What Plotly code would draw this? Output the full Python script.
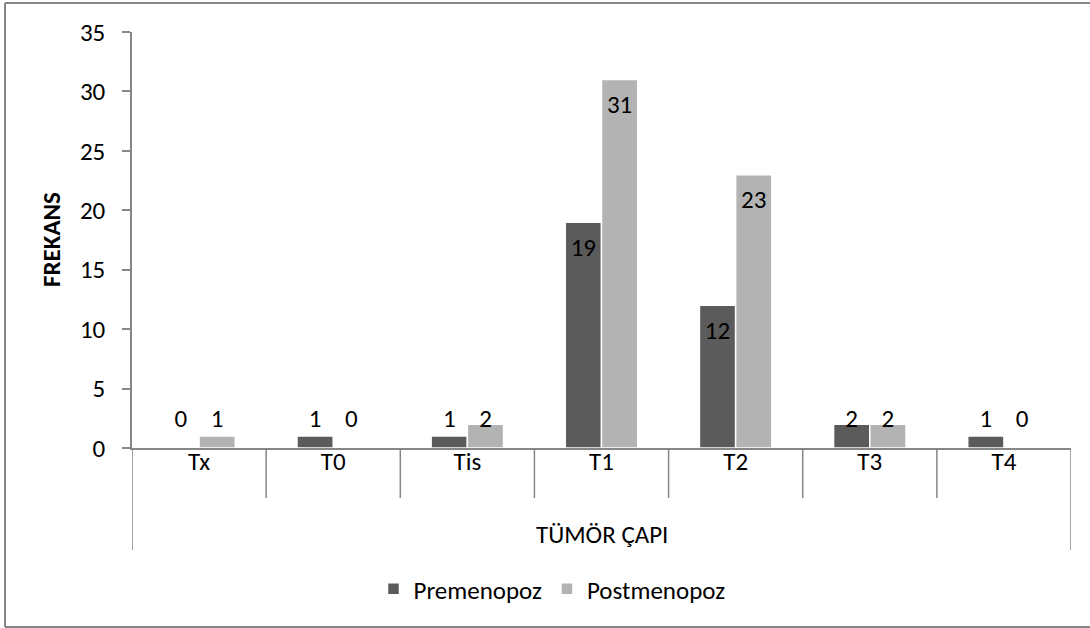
import numpy as np
import plotly.graph_objects as go

categories = ["Tx", "T0", "Tis", "T1", "T2", "T3", "T4"]
premenopoz = [0, 1, 1, 19, 12, 2, 1]
postmenopoz = [1, 0, 2, 31, 23, 2, 0]
y_ticks = [0, 5, 10, 15, 20, 25, 30, 35]

FONT = "Carlito, Calibri, Lato, sans-serif"
FS = 25
DARK = "#5b5b5b"
LIGHT = "#b3b3b3"
AXIS = "#868686"

W, H = 1090, 628
L, R, T, B = 132, 19, 32, 180
pw, ph = W - L - R, H - T - B

def px_x(px):
    return (px - L) / pw

def px_y(py):
    return (H - B - py) / ph

def label_y(vals):
    v = np.array(vals, dtype=float)
    return np.where(v >= 5, v - 2.3, 2.3)

fig = go.Figure()
fig.add_trace(go.Bar(name="Premenopoz", x=categories, y=premenopoz,
                     marker=dict(color=DARK, line=dict(color="white", width=1.5)),
                     offsetgroup="pre"))
fig.add_trace(go.Bar(name="Postmenopoz", x=categories, y=postmenopoz,
                     marker=dict(color=LIGHT, line=dict(color="white", width=1.5)),
                     offsetgroup="post"))
fig.add_trace(go.Scatter(x=categories, y=label_y(premenopoz), mode="text",
                         text=[str(v) for v in premenopoz], textposition="middle center",
                         textfont=dict(family=FONT, size=FS, color="black"),
                         offsetgroup="pre", showlegend=False, hoverinfo="skip"))
fig.add_trace(go.Scatter(x=categories, y=label_y(postmenopoz), mode="text",
                         text=[str(v) for v in postmenopoz], textposition="middle center",
                         textfont=dict(family=FONT, size=FS, color="black"),
                         offsetgroup="post", showlegend=False, hoverinfo="skip"))

shapes = []
n = len(categories)
for i in range(n + 1):
    xb = i - 0.5
    outer = i == 0 or i == n
    shapes.append(dict(type="line", xref="x", yref="paper", x0=xb, x1=xb,
                       y0=0, y1=px_y(550) if outer else px_y(498),
                       line=dict(color=AXIS, width=1.5)))
# chart border
shapes.append(dict(type="line", xref="paper", yref="paper", x0=px_x(5), x1=px_x(5),
                   y0=px_y(3), y1=px_y(627), line=dict(color=AXIS, width=2)))
shapes.append(dict(type="line", xref="paper", yref="paper", x0=px_x(5), x1=px_x(1100),
                   y0=px_y(3), y1=px_y(3), line=dict(color=AXIS, width=2)))
shapes.append(dict(type="line", xref="paper", yref="paper", x0=px_x(5), x1=px_x(1100),
                   y0=px_y(627), y1=px_y(627), line=dict(color=AXIS, width=2)))

annotations = [
    dict(text="TÜMÖR ÇAPI", xref="paper", yref="paper", x=0.5, y=px_y(534),
         showarrow=False, font=dict(family=FONT, size=FS, color="black"),
         xanchor="center", yanchor="middle"),
    dict(text="<b>FREKANS</b>", xref="paper", yref="paper", x=px_x(51), y=px_y(240),
         textangle=-90, showarrow=False, font=dict(family=FONT, size=FS, color="black"),
         xanchor="center", yanchor="middle"),
]

fig.update_layout(
    width=W, height=H,
    margin=dict(l=L, r=R, t=T, b=B),
    paper_bgcolor="white", plot_bgcolor="white",
    barmode="group", bargap=0.46, bargroupgap=0,
    scattermode="group", scattergap=0.46,
    font=dict(family=FONT, size=FS, color="black"),
    showlegend=True,
    legend=dict(orientation="h", x=px_x(552), xanchor="center", y=px_y(589), yanchor="middle",
                font=dict(family=FONT, size=FS, color="black"), itemwidth=30,
                traceorder="normal"),
    shapes=shapes, annotations=annotations,
)
fig.update_xaxes(type="category", categoryorder="array", categoryarray=categories,
                 showline=True, linecolor=AXIS, linewidth=1.5, ticks="",
                 ticklabelstandoff=-10,
                 showgrid=False, zeroline=False, tickfont=dict(family=FONT, size=FS),
                 range=[-0.5, n - 0.5])
fig.update_yaxes(range=[0, 35], tickvals=y_ticks, showline=True, linecolor=AXIS, linewidth=1.5,
                 ticks="outside", ticklen=8, tickcolor=AXIS, tickwidth=1.5,
                 ticklabelstandoff=12, showgrid=False, zeroline=False,
                 tickfont=dict(family=FONT, size=FS))

fig.write_html("out.html")
